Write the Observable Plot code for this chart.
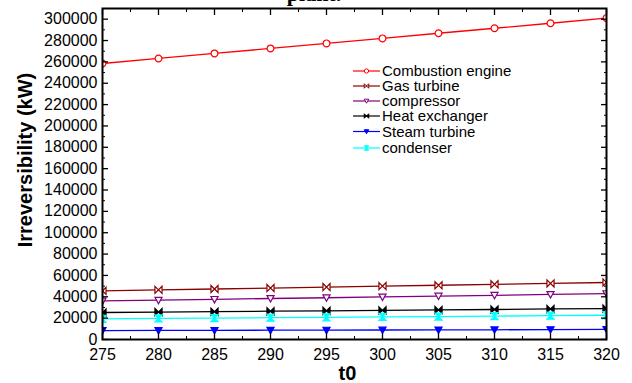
<!DOCTYPE html>
<html><head><meta charset="utf-8">
<script src="https://cdn.jsdelivr.net/npm/d3@7"></script>
<script src="https://cdn.jsdelivr.net/npm/@observablehq/plot@0.6"></script>
<style>
body{margin:0;background:#fff;}
#wrap{position:relative;width:632px;height:383px;overflow:hidden;font-family:"Liberation Sans",Arial,sans-serif;background:#fff;}
#title{position:absolute;left:0;width:628px;text-align:center;top:-17px;font:bold 22px/22px "Liberation Serif","Times New Roman",serif;color:#000;}
#wrap svg{position:absolute;left:0;top:0;}
#legend{pointer-events:none;}
</style></head><body>
<div id="wrap"><div id="title">plant.</div></div>
<script>
// ---- data ----
const t0 = [275, 280, 285, 290, 295, 300, 305, 310, 315, 320];
const combustionEngine = [258500, 263200, 267900, 272600, 277300, 282000, 286800, 291500, 296200, 301000];
const gasTurbine       = [45600, 46500, 47300, 48200, 49100, 50000, 50800, 51700, 52500, 53400];
const compressor       = [36100, 36800, 37600, 38400, 39100, 39900, 40700, 41400, 42200, 43000];
const heatExchanger    = [25300, 25700, 26100, 26500, 26900, 27300, 27700, 28100, 28600, 29000];
const steamTurbine     = [8400, 8500, 8600, 8700, 8800, 8900, 9000, 9100, 9300, 9400];
const condenser        = [19300, 19700, 20000, 20400, 20800, 21200, 21500, 21900, 22300, 22700];
const seriesNames = ["Combustion engine", "Gas turbine", "compressor", "Heat exchanger", "Steam turbine", "condenser"];
const seriesValues = [combustionEngine, gasTurbine, compressor, heatExchanger, steamTurbine, condenser];
const seriesColors = ["#ff0000", "#8b0000", "#800080", "#000000", "#0000ff", "#00ffff"];
const seriesFilled = [false, false, false, true, true, true];
const xTicks = [275, 280, 285, 290, 295, 300, 305, 310, 315, 320];
const yTicks = [0, 20000, 40000, 60000, 80000, 100000, 120000, 140000, 160000, 180000, 200000, 220000, 240000, 260000, 280000, 300000];
const xLabel = "t0";
const yLabel = "Irreversibility (kW)";

// ---- symbols ----
const bowtie = {draw(c, size) { const h = Math.sqrt(size) * 0.5; c.moveTo(-h, -h); c.lineTo(h, h); c.lineTo(h, -h); c.lineTo(-h, h); c.closePath(); }};
const hourglass = {draw(c, size) { const h = Math.sqrt(size) * 0.5; c.moveTo(-h, -h); c.lineTo(h, -h); c.lineTo(-h, h); c.lineTo(h, h); c.closePath(); }};
const triDown = {draw(c, size) { const h = Math.sqrt(size) * 0.5; c.moveTo(-h, -h * 0.8); c.lineTo(h, -h * 0.8); c.lineTo(0, h); c.closePath(); }};
const circle = {draw(c, size) { const r = Math.sqrt(size / Math.PI) * 0.85; c.moveTo(r, 0); c.arc(0, 0, r, 0, 2 * Math.PI); }};
const seriesSymbols = [circle, bowtie, triDown, bowtie, triDown, hourglass];

const rows = seriesNames.flatMap((name, i) => t0.map((t, j) => ({series: name, t, v: seriesValues[i][j]})));

const xMinor = xTicks.slice(0, -1).map(d => d + 2.5);
const yMinor = yTicks.map(d => d + 10000);

const marks = [];
seriesNames.forEach((name, i) => {
  const data = rows.filter(d => d.series === name);
  marks.push(Plot.line(data, {x: "t", y: "v", stroke: seriesColors[i], strokeWidth: 1.3, clip: true}));
});
seriesNames.forEach((name, i) => {
  const data = rows.filter(d => d.series === name);
  marks.push(Plot.dot(data, {x: "t", y: "v", r: 4, symbol: seriesSymbols[i], stroke: seriesColors[i], strokeWidth: 1.2, fill: seriesFilled[i] ? seriesColors[i] : "white", clip: true}));
});

const fmt = d => String(d);
const chart = Plot.plot({
  width: 632, height: 383,
  marginLeft: 102, marginRight: 26, marginTop: 8, marginBottom: 44,
  style: {fontFamily: "'Liberation Sans', Arial, sans-serif", fontSize: "16px", color: "#000", background: "transparent"},
  x: {domain: [275, 320]},
  y: {domain: [0, 310000]},
  marks: [
    ...marks,
    Plot.axisY(yTicks, {anchor: "left", tickSize: 0, tickPadding: 5, tickFormat: fmt, label: null}),
    Plot.axisY(yTicks, {anchor: "left", tickSize: -6, tickFormat: () => "", label: null, strokeWidth: 1.3}),
    Plot.axisY(yMinor, {anchor: "left", tickSize: -3, tickFormat: () => "", label: null}),
    Plot.axisY(yTicks, {anchor: "right", tickSize: -6, tickFormat: () => "", label: null, strokeWidth: 1.3}),
    Plot.axisY(yMinor, {anchor: "right", tickSize: -3, tickFormat: () => "", label: null}),
    Plot.axisX(xTicks, {anchor: "bottom", tickSize: 0, tickPadding: 9, tickFormat: fmt, label: null}),
    Plot.axisX(xTicks, {anchor: "bottom", tickSize: -6, tickFormat: () => "", label: null, strokeWidth: 1.3}),
    Plot.axisX(xMinor, {anchor: "bottom", tickSize: -3, tickFormat: () => "", label: null}),
    Plot.axisX(xTicks, {anchor: "top", tickSize: -6, tickFormat: () => "", label: null, strokeWidth: 1.3}),
    Plot.axisX(xMinor, {anchor: "top", tickSize: -3, tickFormat: () => "", label: null}),
    Plot.frame({stroke: "black", strokeWidth: 2})
  ]
});
document.getElementById("wrap").appendChild(chart);

// ---- overlay: axis titles and legend ----
const lg = d3.select("#wrap").append("svg").attr("id", "legend").attr("width", 632).attr("height", 383)
  .attr("font-family", "'Liberation Sans', Arial, sans-serif");
lg.append("text").attr("transform", "translate(32,160) rotate(-90)").attr("text-anchor", "middle")
  .attr("font-size", 20).attr("font-weight", "bold").attr("fill", "#000").text(yLabel);
lg.append("text").attr("x", 347.5).attr("y", 380).attr("text-anchor", "middle")
  .attr("font-size", 20).attr("font-weight", "bold").attr("fill", "#000").text(xLabel);

const legendY = [71, 86, 101, 116, 131.5, 148];
seriesNames.forEach((name, i) => {
  const g = lg.append("g").attr("transform", `translate(0,${legendY[i]})`);
  g.append("line").attr("x1", 353).attr("x2", 380).attr("y1", 0).attr("y2", 0).attr("stroke", seriesColors[i]).attr("stroke-width", 1.2);
  g.append("path").attr("transform", "translate(366.5,0)")
    .attr("d", d3.symbol(seriesSymbols[i], 20)())
    .attr("fill", seriesFilled[i] ? seriesColors[i] : "white").attr("stroke", seriesColors[i]).attr("stroke-width", 1);
  g.append("text").attr("x", 382).attr("y", 0).attr("dy", "0.35em").attr("font-size", 15)
    .attr("fill", "#000").text(name);
});
</script>
</body></html>
